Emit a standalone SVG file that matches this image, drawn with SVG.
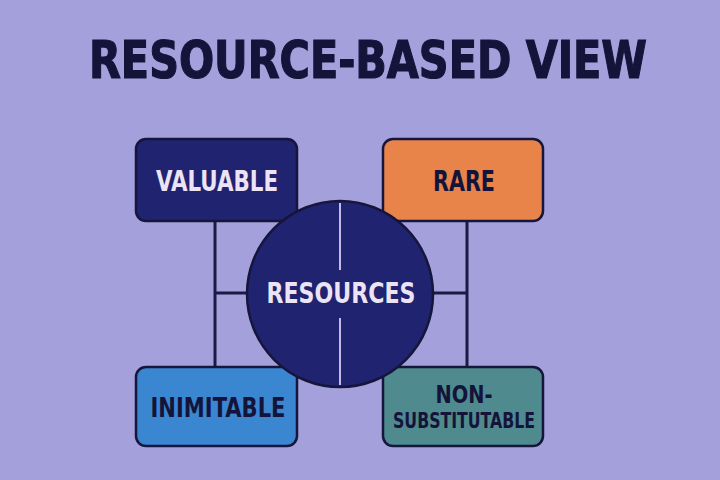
<svg xmlns="http://www.w3.org/2000/svg" width="720" height="480" viewBox="0 0 720 480">
<style>
.t{font-family:"DejaVu Sans Condensed","DejaVu Sans","Liberation Sans",sans-serif;font-weight:bold;font-stretch:condensed;text-anchor:middle}
.box{stroke:#16163c;stroke-width:2.5}
.ln{stroke:#1a1a44;stroke-width:3;fill:none}
.light{fill:#ece4f4}
.dark{fill:#14143a}
</style>
<rect width="720" height="480" fill="#a4a0dc"/>
<text class="t dark" x="368" y="78" font-size="52" stroke="#14143a" stroke-width="1.2" textLength="558" lengthAdjust="spacingAndGlyphs">RESOURCE-BASED VIEW</text>
<g id="connectors">
<line class="ln" x1="215" y1="221" x2="215" y2="367"/>
<line class="ln" x1="215" y1="293" x2="248" y2="293"/>
<line class="ln" x1="467" y1="221" x2="467" y2="367"/>
<line class="ln" x1="432" y1="293" x2="467" y2="293"/>
</g>
<g id="valuable">
<rect class="box" x="136" y="139" width="161" height="82" rx="10" fill="#1f2370"/>
<text class="t light" x="217" y="191" font-size="28" textLength="122" lengthAdjust="spacingAndGlyphs">VALUABLE</text>
</g>
<g id="rare">
<rect class="box" x="383" y="139" width="160" height="82" rx="10" fill="#e8834a"/>
<text class="t dark" x="464" y="191" font-size="28" textLength="62" lengthAdjust="spacingAndGlyphs">RARE</text>
</g>
<g id="inimitable">
<rect class="box" x="136" y="367" width="161" height="79" rx="10" fill="#3a86d0"/>
<text class="t dark" x="218" y="417" font-size="27" textLength="135" lengthAdjust="spacingAndGlyphs">INIMITABLE</text>
</g>
<g id="nonsubstitutable">
<rect class="box" x="383" y="367" width="160" height="79" rx="10" fill="#4e8a8e"/>
<text class="t dark" x="464" y="403" font-size="24" textLength="57" lengthAdjust="spacingAndGlyphs">NON-</text>
<text class="t dark" x="464" y="428" font-size="21" textLength="142" lengthAdjust="spacingAndGlyphs">SUBSTITUTABLE</text>
</g>
<g id="resources">
<circle cx="340" cy="294" r="93" fill="#1f2370" stroke="#16163c" stroke-width="2.5"/>
<line x1="340" y1="203" x2="340" y2="270" stroke="#c4bce8" stroke-width="2"/>
<line x1="340" y1="318" x2="340" y2="385" stroke="#c4bce8" stroke-width="2"/>
<text class="t light" x="341" y="303" font-size="29" textLength="149" lengthAdjust="spacingAndGlyphs">RESOURCES</text>
</g>
</svg>
